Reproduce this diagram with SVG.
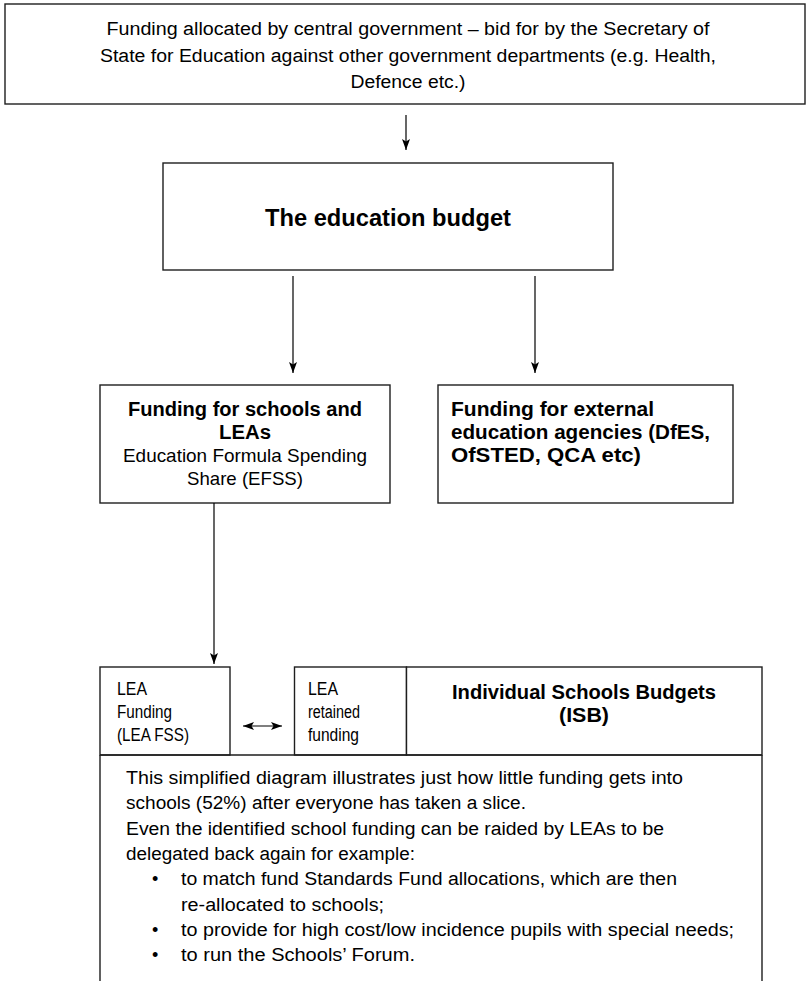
<svg xmlns="http://www.w3.org/2000/svg" width="806" height="981" viewBox="0 0 806 981">
<defs>
<style>
.box{fill:#ffffff;stroke:#1e1e1e;stroke-width:1.4}
.ln{fill:none;stroke:#1e1e1e;stroke-width:1.4}
.conn{fill:none;stroke:#000000;stroke-width:1.2}
text{font-family:"Liberation Sans",Arial,sans-serif;fill:#000000}
.r{font-size:18px}
.rb{font-size:19px}
.b{font-size:20px;font-weight:bold}
.bl{font-size:23px;font-weight:bold}
.c{text-anchor:middle}
</style>
<marker id="ah" markerUnits="userSpaceOnUse" markerWidth="12" markerHeight="9" refX="11" refY="4" orient="auto-start-reverse">
<path d="M0,0 L11,4 L0,8 L2.5,4 z" fill="#000000"/>
</marker>
</defs>
<rect width="806" height="981" fill="#ffffff"/>

<g id="top">
<rect class="box" x="5" y="4" width="800" height="100"/>
<text class="r c" x="408" y="35" textLength="603" lengthAdjust="spacingAndGlyphs">Funding allocated by central government – bid for by the Secretary of</text>
<text class="r c" x="408" y="62" textLength="616" lengthAdjust="spacingAndGlyphs">State for Education against other government departments (e.g. Health,</text>
<text class="r c" x="408" y="88" textLength="115" lengthAdjust="spacingAndGlyphs">Defence etc.)</text>
</g>

<g id="budget">
<rect class="box" x="163" y="163" width="450" height="107"/>
<text class="bl c" x="388" y="226" textLength="246" lengthAdjust="spacingAndGlyphs">The education budget</text>
</g>

<g id="schools">
<rect class="box" x="100" y="385" width="290" height="118"/>
<text class="b c" x="245" y="416" textLength="234" lengthAdjust="spacingAndGlyphs">Funding for schools and</text>
<text class="b c" x="245" y="439" textLength="52" lengthAdjust="spacingAndGlyphs">LEAs</text>
<text class="rb c" x="245" y="462" textLength="244" lengthAdjust="spacingAndGlyphs">Education Formula Spending</text>
<text class="rb c" x="245" y="485" textLength="116" lengthAdjust="spacingAndGlyphs">Share (EFSS)</text>
</g>

<g id="external">
<rect class="box" x="438" y="385" width="295" height="118"/>
<text class="b" x="451" y="416" textLength="203" lengthAdjust="spacingAndGlyphs">Funding for external</text>
<text class="b" x="451" y="439" textLength="259" lengthAdjust="spacingAndGlyphs">education agencies (DfES,</text>
<text class="b" x="451" y="462" textLength="190" lengthAdjust="spacingAndGlyphs">OfSTED, QCA etc)</text>
</g>

<g id="lea-funding">
<rect class="box" x="100" y="667" width="130" height="88"/>
<text class="r" x="117" y="695" textLength="30" lengthAdjust="spacingAndGlyphs">LEA</text>
<text class="r" x="117" y="718" textLength="55" lengthAdjust="spacingAndGlyphs">Funding</text>
<text class="r" x="117" y="741" textLength="72" lengthAdjust="spacingAndGlyphs">(LEA FSS)</text>
</g>

<g id="lea-retained">
<rect class="box" x="294.5" y="667" width="112" height="88"/>
<text class="r" x="308" y="695" textLength="30" lengthAdjust="spacingAndGlyphs">LEA</text>
<text class="r" x="308" y="718" textLength="52" lengthAdjust="spacingAndGlyphs">retained</text>
<text class="r" x="308" y="741" textLength="51" lengthAdjust="spacingAndGlyphs">funding</text>
</g>

<g id="isb">
<rect class="box" x="406.5" y="667" width="355.5" height="88"/>
<text class="b c" x="584" y="699" textLength="264" lengthAdjust="spacingAndGlyphs">Individual Schools Budgets</text>
<text class="b c" x="584" y="722" textLength="50" lengthAdjust="spacingAndGlyphs">(ISB)</text>
</g>

<g id="note">
<path class="ln" d="M100,755 L100,985 M762,755 L762,985 M100,755 L762,755"/>
<text class="r" x="126" y="784" textLength="557" lengthAdjust="spacingAndGlyphs">This simplified diagram illustrates just how little funding gets into</text>
<text class="r" x="126" y="809" textLength="400" lengthAdjust="spacingAndGlyphs">schools (52%) after everyone has taken a slice.</text>
<text class="r" x="126" y="835" textLength="538" lengthAdjust="spacingAndGlyphs">Even the identified school funding can be raided by LEAs to be</text>
<text class="r" x="126" y="860" textLength="289" lengthAdjust="spacingAndGlyphs">delegated back again for example:</text>
<text class="r" x="152" y="885">•</text>
<text class="r" x="181" y="885" textLength="496" lengthAdjust="spacingAndGlyphs">to match fund Standards Fund allocations, which are then</text>
<text class="r" x="181" y="911" textLength="203" lengthAdjust="spacingAndGlyphs">re-allocated to schools;</text>
<text class="r" x="152" y="936">•</text>
<text class="r" x="181" y="936" textLength="553" lengthAdjust="spacingAndGlyphs">to provide for high cost/low incidence pupils with special needs;</text>
<text class="r" x="152" y="961">•</text>
<text class="r" x="181" y="961" textLength="234" lengthAdjust="spacingAndGlyphs">to run the Schools’ Forum.</text>
</g>

<g id="connectors">
<line class="conn" x1="406" y1="115" x2="406" y2="150" marker-end="url(#ah)"/>
<line class="conn" x1="293" y1="276" x2="293" y2="373" marker-end="url(#ah)"/>
<line class="conn" x1="535" y1="276" x2="535" y2="373" marker-end="url(#ah)"/>
<line class="conn" x1="214" y1="503" x2="214" y2="664" marker-end="url(#ah)"/>
<line class="conn" x1="243" y1="726" x2="282" y2="726" marker-start="url(#ah)" marker-end="url(#ah)"/>
</g>
</svg>
